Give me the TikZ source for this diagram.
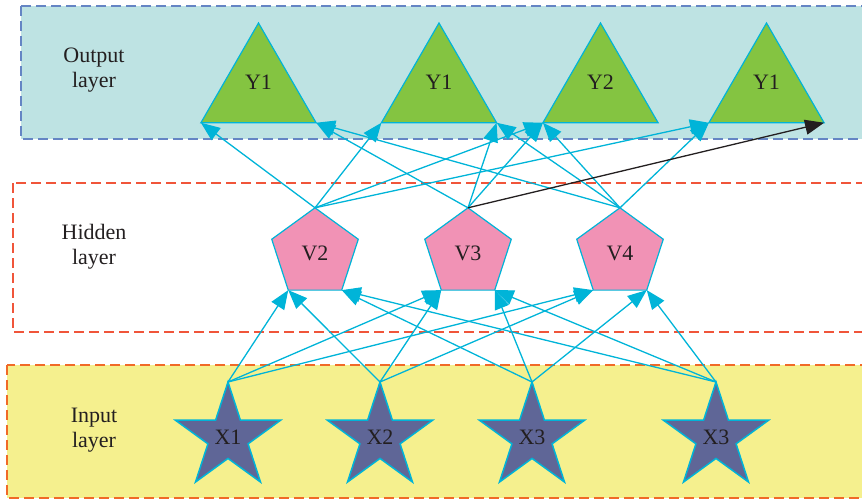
\documentclass[tikz,border=0pt]{standalone}
\usepackage{fontspec}
\setmainfont{Liberation Serif}
\usetikzlibrary{shapes.geometric,arrows.meta}

\definecolor{outfill}{HTML}{BEE3E3}
\definecolor{outline}{HTML}{6585C4}
\definecolor{hidline}{HTML}{F0553A}
\definecolor{infill}{HTML}{F5F08E}
\definecolor{inline}{HTML}{F06A28}
\definecolor{trifill}{HTML}{84C441}
\definecolor{pentfill}{HTML}{F192B5}
\definecolor{starfill}{HTML}{5F6697}
\definecolor{edge}{HTML}{00B4D8}
\definecolor{ink}{HTML}{231F20}

\begin{document}
\begin{tikzpicture}[x=1pt,y=-1pt,
  every node/.style={font=\fontsize{22}{25}\selectfont, text=ink},
  layerbox/.style={line width=1.5pt, dash pattern=on 10pt off 5pt},
  tri/.style={regular polygon, regular polygon sides=3, minimum size=133pt,
    inner sep=0pt, outer sep=0pt, fill=trifill, draw=edge, line width=1.2pt},
  pent/.style={regular polygon, regular polygon sides=5, minimum size=91pt,
    inner sep=0pt, outer sep=0pt, fill=pentfill, draw=edge, line width=1.2pt},
  starnode/.style={star, star points=5, star point ratio=2.618, minimum size=110.6pt,
    inner sep=0pt, outer sep=0pt, fill=starfill, draw=edge, line width=1.5pt},
  link/.style={draw=edge, line width=1.3pt, -{Triangle[length=19pt,width=15pt]}},
  blacklink/.style={draw=ink, line width=1.3pt, -{Triangle[length=19pt,width=15pt]}}
]
\useasboundingbox (0,0) rectangle (862,501);
\clip (0,0) rectangle (862,501);

% layer bands
\draw[layerbox, draw=outline, fill=outfill] (21,6) rectangle (868,139);
\draw[layerbox, draw=hidline] (13,183) rectangle (868,332);
\draw[layerbox, draw=inline, fill=infill] (7,365) rectangle (868,498);

% layer captions
\node[align=center] (capout) at (94,70) {Output\\layer};
\node[align=center] (caphid) at (94,247) {Hidden\\layer};
\node[align=center] (capin) at (94,430) {Input\\layer};

% output layer
\node[tri, label={[yshift=7.5pt]center:Y1}] (t1) at (258.5,89.5) {};
\node[tri, label={[yshift=7.5pt]center:Y1}] (t2) at (439,89.5) {};
\node[tri, label={[yshift=7.5pt]center:Y2}] (t3) at (600.5,89.5) {};
\node[tri, label={[yshift=7.5pt]center:Y1}] (t4) at (766.5,89.5) {};

% hidden layer
\node[pent] (v2) at (315,253.3) {V2};
\node[pent] (v3) at (468,253.3) {V3};
\node[pent] (v4) at (620,253.3) {V4};

% input layer
\node[starnode] (x1) at (228,437.3) {X1};
\node[starnode] (x2) at (380,437.3) {X2};
\node[starnode] (x3) at (532,437.3) {X3};
\node[starnode] (x4) at (716,437.3) {X3};

% input -> hidden
\foreach \s in {x1,x2} {
  \draw[link] (\s.outer point 1) -- (v2.corner 3);
  \draw[link] (\s.outer point 1) -- (v3.corner 3);
  \draw[link] (\s.outer point 1) -- (v4.corner 3);
}
\foreach \s in {x3,x4} {
  \draw[link] (\s.outer point 1) -- (v2.corner 4);
  \draw[link] (\s.outer point 1) -- (v3.corner 4);
  \draw[link] (\s.outer point 1) -- (v4.corner 4);
}

% hidden -> output
\draw[link] (v2.corner 1) -- (t1.corner 2);
\draw[link] (v2.corner 1) -- (t2.corner 2);
\draw[link] (v2.corner 1) -- (t3.corner 2);
\draw[link] (v2.corner 1) -- (t4.corner 2);
\draw[link] (v3.corner 1) -- (t1.corner 3);
\draw[link] (v3.corner 1) -- (t2.corner 3);
\draw[link] (v3.corner 1) -- (t3.corner 2);
\draw[link] (v4.corner 1) -- (t1.corner 3);
\draw[link] (v4.corner 1) -- (t2.corner 3);
\draw[link] (v4.corner 1) -- (t3.corner 2);
\draw[link] (v4.corner 1) -- (t4.corner 2);
\draw[blacklink] (v3.corner 1) -- (t4.corner 3);
\end{tikzpicture}
\end{document}
